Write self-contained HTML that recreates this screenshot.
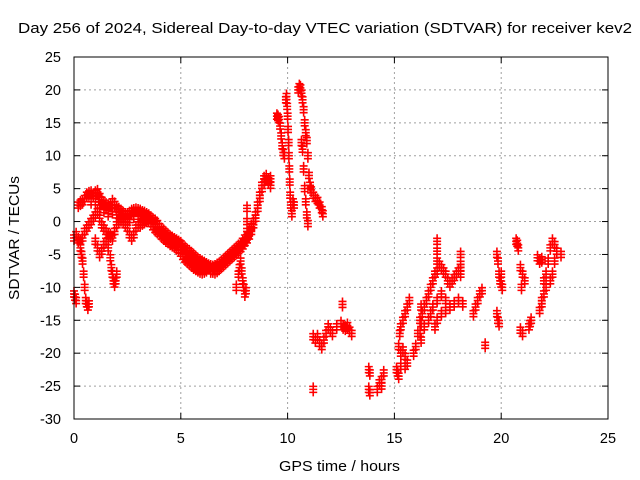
<!DOCTYPE html>
<html><head><meta charset="utf-8"><style>
html,body{margin:0;padding:0;background:#fff}
svg{display:block;font-family:"Liberation Sans",sans-serif}
</style></head><body>
<svg id="chart" width="640" height="480" xmlns="http://www.w3.org/2000/svg">
<rect width="640" height="480" fill="#fff"/>
<text x="18" y="33" font-size="15" textLength="614" lengthAdjust="spacingAndGlyphs">Day 256 of 2024, Sidereal Day-to-day VTEC variation (SDTVAR) for receiver kev2</text>
<text transform="translate(19,238) rotate(-90)" font-size="15" text-anchor="middle" textLength="124" lengthAdjust="spacingAndGlyphs">SDTVAR / TECUs</text>
<text x="279" y="471" font-size="15" textLength="121" lengthAdjust="spacingAndGlyphs">GPS time / hours</text>
<g id="grid"></g>
<g id="marks"></g>
<rect x="74" y="57" width="534" height="362" fill="none" stroke="#000" stroke-width="1"/>
</svg>
<script>
const xTicks=[0,5,10,15,20,25];
const yTicks=[25,20,15,10,5,0,-5,-10,-15,-20,-25,-30];
const hours=[
0.2,0.3,0.4,0.5,0.6,0.7,0.8,0.9,1.0,1.1,1.2,1.3,1.4,1.5,1.6,1.7,1.8,1.9,2.0,2.1,2.2,2.3,2.4,2.5,2.6,2.7,2.8,2.9,3.0,3.1,3.2,3.3,3.4,3.5,3.6,3.7,3.8,3.9,4.0,4.1,4.2,4.3,4.4,4.5,4.6,4.7,4.8,4.9,5.0,5.1,5.2,5.3,5.4,5.5,5.6,5.7,5.8,5.9,6.0,6.1,6.2,6.3,6.4,6.5,6.6,6.7,6.8,6.9,7.0,7.1,7.2,7.3,7.4,7.5,7.6,7.7,7.8,7.9,8.0,8.1,8.2,8.3,8.4,8.5,8.6,8.7,8.8,8.9,9.0,9.1,9.2,
0.0,0.1,0.2,0.3,0.4,0.5,0.6,0.7,0.8,0.9,1.0,1.1,1.2,1.3,1.4,1.5,1.6,1.7,1.8,1.9,2.0,2.1,2.2,2.3,2.4,2.5,2.6,2.7,2.8,2.9,3.0,3.1,3.2,3.3,3.4,3.5,3.6,3.7,3.8,3.9,4.0,4.1,4.2,4.3,4.4,4.5,4.6,4.7,4.8,4.9,5.0,5.1,5.2,5.3,5.4,5.5,5.6,5.7,5.8,5.9,6.0,6.1,6.2,6.3,6.4,6.5,6.6,6.7,6.8,6.9,7.0,7.1,7.2,7.3,7.4,7.5,7.6,7.7,7.8,7.9,8.0,8.1,8.2,8.3,8.4,8.5,8.6,8.7,8.8,8.9,9.0,9.1,9.2,
0.8,1.0,1.2,1.4,1.6,1.8,2.0,2.2,2.4,2.6,2.8,3.0,3.2,3.4,3.6,3.8,4.0,4.2,4.4,4.6,4.8,5.0,5.2,5.4,5.6,5.8,6.0,6.2,6.4,
0.0,0.05,0.1,0.3,0.35,0.4,0.45,0.5,0.55,0.6,0.65,0.7,
1.5,1.6,1.7,1.75,1.8,1.85,1.9,1.95,2.0,1.0,1.1,1.2,1.3,1.4,
7.6,7.7,7.75,7.8,7.85,7.9,7.95,8.0,8.05,8.1,8.1,8.1,
9.5,9.55,9.6,9.65,9.7,9.75,9.8,9.85,
9.92,9.95,9.98,10.0,10.02,10.05,10.06,10.08,10.1,10.12,10.15,10.2,
10.5,10.55,10.6,10.65,10.7,10.75,10.8,10.85,10.9,10.95,11.0,11.05,11.1,11.2,11.3,11.4,11.5,11.6,11.65,
10.65,10.7,10.75,10.8,10.85,10.9,10.95,10.25,10.3,
11.2,11.3,11.4,11.5,11.6,11.7,11.8,11.9,12.0,12.1,12.3,12.5,12.6,12.7,12.8,12.9,13.0,12.57,11.2,
13.8,13.85,13.8,13.85,14.2,14.3,14.4,14.5,14.4,
15.1,15.15,15.2,15.3,15.2,15.3,15.4,15.5,15.6,15.5,15.25,15.3,15.4,15.5,15.6,15.7,
15.9,16.0,16.1,16.2,16.3,16.4,16.5,16.6,16.7,16.8,16.9,17.0,17.1,17.2,17.3,17.4,17.5,17.6,17.7,17.8,17.9,18.0,18.1,
16.2,16.4,16.6,16.8,17.0,17.2,17.4,17.6,17.8,18.0,18.2,17.0,17.2,17.4,16.9,16.7,
17.0,17.0,17.0,18.1,18.1,18.1,16.25,16.25,16.25,
18.7,18.8,18.9,19.0,19.1,19.25,
19.8,19.85,19.9,19.95,20.0,20.05,20.0,19.8,19.85,19.9,
20.7,20.75,20.8,20.9,21.0,21.1,20.95,20.9,21.0,21.3,21.4,21.35,
21.7,21.8,21.9,22.0,22.1,22.0,21.9,22.1,22.2,22.3,22.4,22.5,22.6,22.8,22.5,22.4,22.3,21.8,21.9
];
const tecu=[
2.5,2.8,3,3.5,4,4.2,4.3,4,4.3,4.5,3.8,3.2,2.8,2.5,2.3,2.5,3,2.6,2.0,1.8,1.5,1.2,1,1,1.2,1.5,1.6,1.7,1.6,1.5,1.3,1.2,1.0,0.8,0.5,0.2,0,-0.3,-0.8,-1.2,-1.5,-1.8,-2.1,-2.4,-2.6,-2.8,-3,-3.2,-3.4,-3.8,-4.1,-4.4,-4.6,-4.9,-5.2,-5.5,-5.8,-6.0,-6.2,-6.4,-6.6,-6.8,-6.9,-7.0,-6.9,-6.7,-6.5,-6.2,-5.9,-5.6,-5.3,-5.0,-4.7,-4.4,-4.1,-3.8,-3.5,-3.0,-2.5,-2,-1.5,-0.8,0,1,2.5,4,5.5,6.5,6.8,6.2,5.5,
-2.5,-2,-2.8,-3,-2.5,-1.5,-1,-0.5,0,0.5,1,1.5,0.5,-0.5,-1,-1.5,-2,-2.2,-2.5,-1.5,-0.5,0,0.5,0,-0.5,-1,-2,-2.5,-2,-1,-0.5,-0.5,-0.2,0,0.3,0.2,-0.3,-0.8,-1.2,-1.5,-1.8,-2.2,-2.5,-2.8,-3,-3.3,-3.5,-3.7,-4,-4.3,-4.8,-5.3,-5.7,-6,-6.3,-6.6,-6.9,-7.1,-7.3,-7.5,-7.6,-7.5,-7.3,-7.0,-7.2,-7.5,-7.6,-7.4,-7.1,-6.8,-6.5,-6.2,-5.9,-5.6,-5.3,-5.0,-4.7,-4.4,-4.1,-3.7,-3.2,-2.8,-2.2,-1.5,-0.5,0.5,2,3.5,5,6,6.5,6,6.5,
3,3,2.5,1.8,1.2,1.5,1.0,0.3,0,0.3,0.8,0.8,0.5,0.2,-0.3,-0.8,-1.3,-1.8,-2.3,-2.8,-3.3,-3.8,-4.5,-5.2,-5.8,-6.3,-6.8,-7.2,-7.5,
-11,-11.5,-12,-4,-5,-6,-8,-10,-12,-12.5,-13,-12.5,
-3,-4,-5.5,-7,-8,-9,-9.5,-9,-8,-3,-4,-5,-4.5,-3.5,
-10,-8,-7,-6,-7.5,-9,-10,-11,-10.5,2,0,-1.5,
16,15.8,15.5,14.5,13,11.5,10.5,10,
18.5,19,17.5,16,14,12,10,8,6,4,2.5,1.2,
20,20.5,20.3,19.5,18.5,17,15,13.5,12.3,10,7,5.5,4.8,4,3.5,3.2,2.5,1.8,1.2,
12,11,8,5,3,1,-0.3,3,2.5,
-17.5,-18,-17.5,-18.5,-19,-18,-17,-16,-16.5,-17,-16,-15.5,-16,-16.2,-15.8,-16.5,-17,-12.6,-25.5,
-22.5,-23,-25.5,-26,-25.5,-24.5,-24,-23,-25,
-22.5,-23,-23.5,-22,-19,-20,-19.5,-20.5,-21.5,-22,-17,-16,-15,-14,-13,-12,
-20,-19,-17,-15,-14,-13,-12,-11,-10,-9,-8,-7.5,-6.5,-7,-7.5,-8,-9,-9.5,-9,-8.5,-8,-7.5,-7,
-17,-16,-15,-13,-12,-11,-12,-13,-12.5,-12,-12.5,-15,-14,-13.5,-16,-14,
-3,-4.5,-6,-5,-6.5,-8,-13,-15.5,-18,
-14,-13,-12,-11,-10.5,-18.8,
-5,-6,-8,-9,-9.5,-10,-8,-14,-15,-15.5,
-3,-3.3,-4,-7,-8,-9,-10,-16.5,-17,-16,-15,-15.5,
-5.5,-6,-5.8,-9,-10,-11,-12,-8,-6,-4,-3,-3.5,-4.5,-5,-6,-8,-9,-13.5,-12.5
];
const X0=74,X1=608,Y0=57,Y1=419;
function xs(h){return X0+(h-0)/(25-0)*(X1-X0);}
function ys(v){return Y1-(v-(-30))/(25-(-30))*(Y1-Y0);}
const NS='http://www.w3.org/2000/svg';
const grid=document.getElementById('grid');
function mk(tag,attrs,parent){const e=document.createElementNS(NS,tag);for(const k in attrs)e.setAttribute(k,attrs[k]);parent.appendChild(e);return e;}
xTicks.forEach(t=>{
  const x=xs(t);
  if(t>0&&t<25){const g=mk('line',{x1:x,y1:Y0,x2:x,y2:Y1,stroke:'#a0a0a0','stroke-dasharray':'2,3'},grid);
  
  }
  mk('line',{x1:x,y1:Y1,x2:x,y2:Y1-6,stroke:'#000'},grid);
  mk('line',{x1:x,y1:Y0,x2:x,y2:Y0+6,stroke:'#000'},grid);
  const l=mk('text',{x:x,y:443,'font-size':'14.5','text-anchor':'middle'},grid);
  l.textContent=t;
  
  
});
yTicks.forEach(t=>{
  const y=ys(t);
  if(t<25&&t>-30){const g=mk('line',{x1:X0,y1:y,x2:X1,y2:y,stroke:'#a0a0a0','stroke-dasharray':'2,3'},grid);
  
  }
  mk('line',{x1:X0,y1:y,x2:X0+6,y2:y,stroke:'#000'},grid);
  mk('line',{x1:X1,y1:y,x2:X1-6,y2:y,stroke:'#000'},grid);
  const l=mk('text',{x:61,y:y+5,'font-size':'14.5','text-anchor':'end'},grid);
  l.textContent=t;
  
  
});
const marks=document.getElementById('marks');
let d='';
for(let i=0;i<hours.length;i++){
  const x=xs(hours[i]),y=ys(tecu[i]);
  for(const off of [-3,0,3]){
    const yy=y+off;
    d+='M'+(x-4)+' '+yy+'h8M'+x+' '+(yy-4)+'v8';
  }
}
const p=mk('path',{d:d,stroke:'#ff0000','stroke-width':'1.6',fill:'none'},marks);


</script>
</body></html>
